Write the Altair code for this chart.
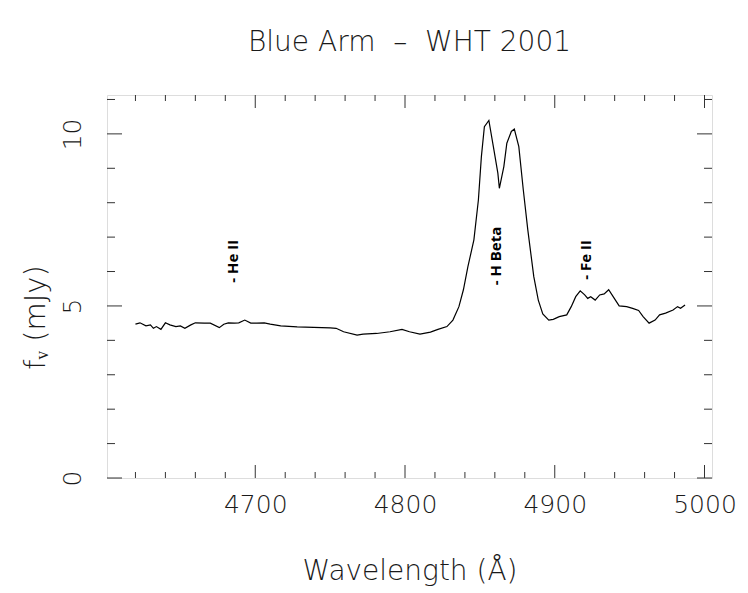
import altair as alt
import pandas as pd

# ---- data ----
wavelength = [
    4620, 4623, 4627, 4630, 4632, 4634, 4637, 4640, 4643, 4647, 4650, 4653, 4657, 4660,
    4666, 4670, 4676, 4679, 4682, 4686, 4689, 4693, 4697, 4701, 4706, 4710, 4717, 4728,
    4739, 4750, 4754, 4759, 4768, 4772, 4781, 4790, 4798, 4803, 4810, 4817, 4822, 4828,
    4832, 4836, 4839, 4842, 4846, 4849, 4851, 4853, 4856, 4859, 4862, 4863, 4866, 4868,
    4871, 4873, 4876, 4879, 4882, 4886, 4889, 4892, 4896, 4899, 4903, 4908, 4911, 4914,
    4917, 4920, 4922, 4924, 4927, 4930, 4933, 4936, 4939, 4943, 4948, 4952, 4956, 4959,
    4963, 4967, 4970, 4974, 4979, 4982, 4984, 4987,
]
flux = [
    4.47, 4.51, 4.42, 4.45, 4.35, 4.40, 4.32, 4.51, 4.45, 4.40, 4.42, 4.35, 4.45, 4.51,
    4.50, 4.50, 4.37, 4.47, 4.51, 4.50, 4.51, 4.59, 4.50, 4.50, 4.51, 4.47, 4.42, 4.39,
    4.38, 4.36, 4.35, 4.25, 4.15, 4.18, 4.20, 4.25, 4.32, 4.25, 4.18, 4.24, 4.32, 4.40,
    4.59, 4.98, 5.47, 6.14, 6.92, 8.08, 9.34, 10.21, 10.39, 9.63, 8.86, 8.42, 9.05, 9.73,
    10.07, 10.14, 9.63, 8.37, 7.21, 5.85, 5.17, 4.77, 4.59, 4.61, 4.69, 4.74, 4.98, 5.27,
    5.44, 5.32, 5.22, 5.27, 5.17, 5.32, 5.35, 5.47, 5.27, 5.00, 4.98, 4.93, 4.87, 4.69,
    4.50, 4.59, 4.74, 4.79, 4.88, 4.98, 4.93, 5.03,
]

line_names = ["- He II", "- H Beta", "- Fe II"]
line_wave = [4685, 4861, 4921]
line_y = [6.3, 6.45, 6.34]

x_major = [4700, 4800, 4900, 5000]
x_minor = [4620, 4640, 4660, 4680, 4720, 4740, 4760, 4780, 4820, 4840, 4860, 4880,
           4920, 4940, 4960, 4980]
y_major = [0, 5, 10]
y_minor = [1, 2, 3, 4, 6, 7, 8, 9, 11]

W, H = 605, 383
XDOM = [4601, 5005]
YDOM = [0, 11.13]
FONT = "DejaVu Sans"
FW = 200
INK = "#1a1a1a"

xs = alt.Scale(domain=XDOM, nice=False, zero=False)
ys = alt.Scale(domain=YDOM, nice=False, zero=False)

spec = pd.DataFrame({"w": wavelength, "f": flux})

main = alt.Chart(spec).mark_line(color="#000000", strokeWidth=1.2).encode(
    x=alt.X("w:Q", scale=xs, title="Wavelength (Å)",
            axis=alt.Axis(values=x_major, ticks=False, domain=False, grid=False,
                          format="d", labelFontSize=25, labelFont=FONT,
                          labelFontWeight=FW, labelColor=INK, labelPadding=14,
                          titleFontSize=28, titleFont=FONT, titleFontWeight=FW,
                          titleColor=INK, titlePadding=40)),
    y=alt.Y("f:Q", scale=ys, title="fᵥ (mJy)",
            axis=alt.Axis(values=y_major, ticks=False, domain=False, grid=False,
                          labelFontSize=25, labelFont=FONT, labelFontWeight=FW,
                          labelColor=INK, labelAngle=-90, labelAlign="center",
                          labelBaseline="bottom", labelPadding=22,
                          titleFontSize=29, titleFont=FONT, titleFontWeight=FW,
                          titleColor=INK, titlePadding=10, titleY=222)),
)

xmaj = pd.DataFrame({"w": x_major})
xmin = pd.DataFrame({"w": x_minor})
ymaj = pd.DataFrame({"f": y_major})
ymin = pd.DataFrame({"f": y_minor})

def xticks(df, size):
    bot = alt.Chart(df).mark_rule(color="#333333", strokeWidth=1).encode(
        x=alt.X("w:Q", scale=xs), y=alt.value(H), y2=alt.value(H - size))
    top = alt.Chart(df).mark_rule(color="#333333", strokeWidth=1).encode(
        x=alt.X("w:Q", scale=xs), y=alt.value(0), y2=alt.value(size))
    return bot + top

def yticks(df, size):
    left = alt.Chart(df).mark_rule(color="#333333", strokeWidth=1).encode(
        y=alt.Y("f:Q", scale=ys), x=alt.value(0), x2=alt.value(size))
    right = alt.Chart(df).mark_rule(color="#333333", strokeWidth=1).encode(
        y=alt.Y("f:Q", scale=ys), x=alt.value(W), x2=alt.value(W - size))
    return left + right

labels = alt.Chart(pd.DataFrame({"name": line_names, "w": line_wave, "f": line_y})).mark_text(
    angle=270, font="Open Sans", fontWeight="bold", fontSize=15, color="#000000",
    align="center", baseline="middle").encode(
    x=alt.X("w:Q", scale=xs), y=alt.Y("f:Q", scale=ys), text="name:N")

chart = alt.layer(
    main, xticks(xmaj, 13), xticks(xmin, 6), yticks(ymaj, 15), yticks(ymin, 8), labels
).properties(
    width=W, height=H,
    title=alt.TitleParams("Blue Arm \u00a0\u2013\u00a0 WHT 2001", fontSize=28, font=FONT,
                          fontWeight=FW, color=INK, anchor="middle", offset=38),
    padding={"left": 107, "top": 95, "right": 36, "bottom": 115},
    autosize=alt.AutoSizeParams(type="none"),
).configure_view(stroke="#333333", strokeWidth=1.2).configure(background="white")

chart.save("out.html", embed_options={"renderer": "svg", "actions": False})
